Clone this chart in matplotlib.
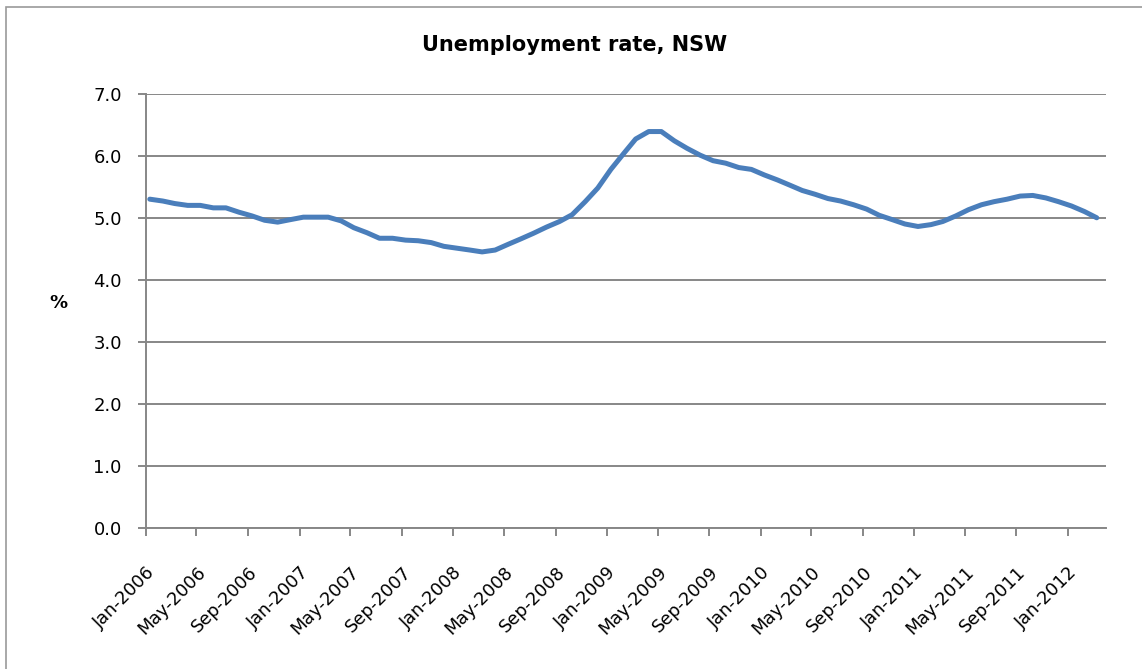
import matplotlib
matplotlib.use("Agg")
import matplotlib.pyplot as plt
import matplotlib.transforms as mtransforms
from matplotlib.patches import Rectangle
import pandas as pd

# Monthly unemployment rate, NSW (%), Jan-2006 to Mar-2012
rate = [
    5.30, 5.27, 5.23, 5.20, 5.20, 5.16, 5.16, 5.09, 5.03, 4.96, 4.93, 4.97,   # 2006
    5.01, 5.01, 5.01, 4.95, 4.84, 4.76, 4.67, 4.67, 4.64, 4.63, 4.60, 4.54,   # 2007
    4.51, 4.48, 4.45, 4.48, 4.57, 4.66, 4.75, 4.85, 4.94, 5.05, 5.26, 5.48,   # 2008
    5.78, 6.04, 6.27, 6.39, 6.39, 6.24, 6.12, 6.01, 5.92, 5.88, 5.81, 5.78,   # 2009
    5.69, 5.61, 5.53, 5.44, 5.38, 5.31, 5.27, 5.21, 5.14, 5.04, 4.97, 4.90,   # 2010
    4.86, 4.89, 4.94, 5.03, 5.13, 5.21, 5.26, 5.30, 5.35, 5.36, 5.32, 5.26,   # 2011
    5.19, 5.10, 5.00,                                                         # 2012
]
start_month = "2006-01-01"
end_month = "2012-04-01"
y_ticks = [0.0, 1.0, 2.0, 3.0, 4.0, 5.0, 6.0, 7.0]

title = "Unemployment rate, NSW"
y_label = "%"

LINE = "#4a7ebb"
GRID = "#878787"

dates = pd.date_range(start_month, periods=len(rate), freq="MS") + pd.Timedelta(days=9)
tick_dates = pd.date_range(start_month, "2012-01-01", freq="4MS")

fig = plt.figure(figsize=(11.42, 6.69), dpi=100)
ax = fig.add_axes([146 / 1142, 1 - 528 / 669, 960 / 1142, (528 - 93.7) / 669])

ax.plot(dates, rate, color=LINE, lw=3.6, solid_capstyle="round", solid_joinstyle="round", zorder=3)

ax.set_xlim(pd.Timestamp(start_month), pd.Timestamp(end_month))
ax.set_ylim(0, 7)
ax.set_yticks(y_ticks)
ax.set_yticklabels(["%.1f" % v for v in y_ticks], fontsize=13)
ax.yaxis.grid(True, color=GRID, lw=1.4)
ax.set_axisbelow(True)

ax.set_xticks(tick_dates)
ax.set_xticklabels([d.strftime("%b-%Y") for d in tick_dates], fontsize=12.8,
                   rotation=45, ha="right", va="top", rotation_mode="anchor")
shift = mtransforms.ScaledTranslation(7 / 72, 0, fig.dpi_scale_trans)
for lab in ax.get_xticklabels():
    lab.set_transform(lab.get_transform() + shift)

for side in ["top", "right"]:
    ax.spines[side].set_visible(False)
for side in ["left", "bottom"]:
    ax.spines[side].set_color(GRID)
    ax.spines[side].set_linewidth(1.4)
ax.tick_params(axis="both", colors=GRID, width=1.4, length=5.5, labelcolor="black")
ax.tick_params(axis="y", pad=12)
ax.tick_params(axis="x", pad=20)

fig.text(575 / 1142, 1 - 45 / 669, title, ha="center", va="center", fontsize=15, fontweight="bold")
fig.text(58 / 1142, 1 - 303 / 669, y_label, ha="center", va="center", fontsize=13, fontweight="bold")

fig.patches.append(Rectangle((6 / 1142, -0.1), 2, (669 - 7) / 669 + 0.1, transform=fig.transFigure,
                             fill=False, edgecolor="#9a9a9a", lw=1.2))

fig.savefig("out.png", dpi=100)
